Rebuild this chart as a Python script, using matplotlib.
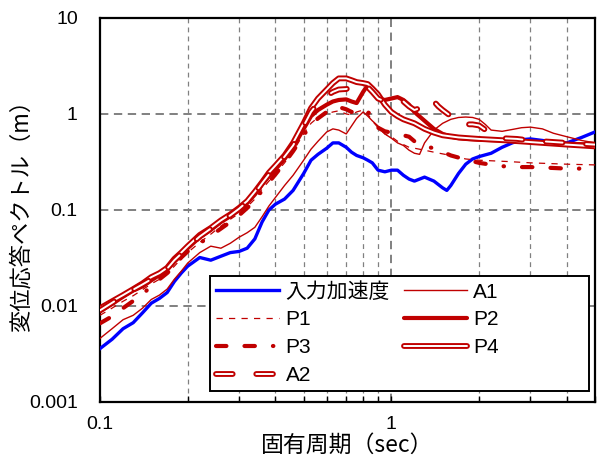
import numpy as np
import matplotlib
matplotlib.use("Agg")
import matplotlib.pyplot as plt
import matplotlib.patheffects as pe
from matplotlib.patches import Rectangle
from matplotlib.ticker import LogLocator, NullLocator, FixedFormatter, FixedLocator

plt.rcParams['font.family'] = ['Liberation Sans', 'Noto Sans CJK JP']
plt.rcParams['lines.scale_dashes'] = False

# input acceleration (blue)
T_in = [0.1, 0.11, 0.12, 0.13, 0.14, 0.15, 0.16, 0.17, 0.18, 0.19, 0.2, 0.22, 0.24, 0.26, 0.28, 0.3,
        0.32, 0.34, 0.36, 0.38, 0.4, 0.43, 0.46, 0.5, 0.53, 0.56, 0.6, 0.63, 0.66, 0.7, 0.73, 0.76,
        0.8, 0.83, 0.86, 0.9, 0.95, 1.0, 1.05, 1.1, 1.15, 1.2, 1.3, 1.4, 1.5, 1.55, 1.6, 1.7, 1.8,
        1.9, 2.0, 2.2, 2.4, 2.6, 2.8, 3.0, 3.3, 3.6, 4.0, 4.5, 5.0]
S_in = [0.0036, 0.0045, 0.0058, 0.0067, 0.0085, 0.0107, 0.012, 0.0138, 0.018, 0.022, 0.026, 0.032,
        0.030, 0.033, 0.036, 0.037, 0.040, 0.050, 0.075, 0.10, 0.115, 0.13, 0.16, 0.24, 0.33, 0.38,
        0.44, 0.50, 0.50, 0.45, 0.40, 0.37, 0.35, 0.33, 0.31, 0.26, 0.25, 0.26, 0.26, 0.23, 0.21,
        0.20, 0.22, 0.20, 0.17, 0.16, 0.18, 0.24, 0.30, 0.34, 0.36, 0.39, 0.45, 0.50, 0.54, 0.55,
        0.53, 0.51, 0.50, 0.57, 0.65]

# A1 (thin)
T_a1 = [0.1, 0.11, 0.12, 0.13, 0.14, 0.15, 0.16, 0.17, 0.18, 0.19, 0.2, 0.22, 0.24, 0.26, 0.28, 0.3,
        0.32, 0.34, 0.36, 0.38, 0.4, 0.43, 0.46, 0.5, 0.53, 0.56, 0.6, 0.63, 0.66, 0.7, 0.73, 0.76,
        0.8, 0.83, 0.86, 0.9, 0.95, 1.0, 1.05, 1.1, 1.15, 1.2, 1.25, 1.3, 1.4, 1.5, 1.6, 1.7, 1.8,
        1.9, 2.0, 2.1, 2.2, 2.4, 2.6, 2.8, 3.0, 3.3, 3.6, 4.0, 4.5, 5.0]
S_a1 = [0.0046, 0.0058, 0.0072, 0.008, 0.0095, 0.0117, 0.013, 0.015, 0.019, 0.023, 0.028, 0.036,
        0.042, 0.040, 0.045, 0.052, 0.058, 0.066, 0.085, 0.11, 0.135, 0.18, 0.23, 0.33, 0.43, 0.52,
        0.65, 0.70, 0.68, 0.62, 0.75, 0.90, 1.05, 0.95, 0.85, 0.75, 0.62, 0.56, 0.50, 0.47, 0.42,
        0.39, 0.38, 0.50, 0.68, 0.80, 0.88, 0.92, 0.93, 0.92, 0.88, 0.78, 0.68, 0.66, 0.69, 0.72,
        0.73, 0.70, 0.63, 0.58, 0.53, 0.50]

# P1 (thin dashed)
T_p1 = [0.1, 0.11, 0.12, 0.13, 0.14, 0.15, 0.16, 0.17, 0.18, 0.19, 0.2, 0.22, 0.24, 0.26, 0.28, 0.3,
        0.32, 0.34, 0.36, 0.38, 0.4, 0.43, 0.46, 0.5, 0.53, 0.56, 0.6, 0.63, 0.66, 0.7, 0.73, 0.76,
        0.8, 0.83, 0.86, 0.9, 0.95, 1.0, 1.05, 1.1, 1.15, 1.2, 1.3, 1.4, 1.6, 1.8, 2.0, 2.5, 3.0,
        4.0, 5.0]
S_p1 = [0.008, 0.0095, 0.0112, 0.0128, 0.0148, 0.017, 0.019, 0.022, 0.026, 0.031, 0.036, 0.046,
        0.056, 0.068, 0.080, 0.092, 0.108, 0.13, 0.165, 0.20, 0.24, 0.31, 0.41, 0.62, 0.80, 0.92,
        1.0, 1.05, 1.08, 1.0, 0.98, 1.05, 1.1, 1.0, 0.85, 0.72, 0.62, 0.58, 0.52, 0.48, 0.45, 0.44,
        0.42, 0.40, 0.37, 0.34, 0.33, 0.32, 0.31, 0.30, 0.295]

# P2 (thick)
T_p2 = [0.1, 0.11, 0.12, 0.13, 0.14, 0.15, 0.16, 0.17, 0.18, 0.19, 0.2, 0.22, 0.24, 0.26, 0.28, 0.3,
        0.32, 0.34, 0.36, 0.38, 0.4, 0.43, 0.46, 0.5, 0.53, 0.56, 0.6, 0.63, 0.66, 0.7, 0.73, 0.76,
        0.8, 0.83, 0.86, 0.9, 0.95, 1.0, 1.05, 1.1, 1.15, 1.2, 1.3, 1.4, 1.5, 1.6, 1.7, 1.8, 2.0,
        2.4, 3.0, 4.0, 5.0]
S_p2 = [0.0088, 0.0105, 0.0125, 0.0145, 0.016, 0.0185, 0.021, 0.024, 0.029, 0.034, 0.040, 0.052,
        0.062, 0.075, 0.086, 0.100, 0.118, 0.145, 0.185, 0.225, 0.265, 0.34, 0.45, 0.70, 0.95, 1.1,
        1.25, 1.35, 1.4, 1.42, 1.35, 1.30, 1.7, 2.0, 1.8, 1.45, 1.4, 1.45, 1.5, 1.4, 1.25, 1.05,
        0.85, 0.70, 0.62, 0.58, 0.56, 0.55, 0.54, 0.53, 0.51, 0.49, 0.48]

# P3 (thick dash-dot)
T_p3 = [0.1, 0.11, 0.12, 0.13, 0.14, 0.15, 0.16, 0.17, 0.18, 0.19, 0.2, 0.22, 0.24, 0.26, 0.28, 0.3,
        0.32, 0.34, 0.36, 0.38, 0.4, 0.43, 0.46, 0.5, 0.53, 0.56, 0.6, 0.63, 0.66, 0.7, 0.73, 0.76,
        0.8, 0.83, 0.86, 0.9, 0.95, 1.0, 1.05, 1.1, 1.15, 1.2, 1.3, 1.4, 1.6, 1.8, 2.0, 2.3, 2.6,
        3.0, 3.5, 4.0, 4.5, 5.0]
S_p3 = [0.0066, 0.0078, 0.0095, 0.0113, 0.013, 0.0165, 0.019, 0.022, 0.026, 0.032, 0.037, 0.045,
        0.054, 0.064, 0.075, 0.088, 0.105, 0.125, 0.16, 0.195, 0.235, 0.31, 0.41, 0.60, 0.78, 0.90,
        1.05, 1.15, 1.18, 1.12, 1.05, 1.08, 1.12, 1.05, 0.95, 0.72, 0.66, 0.64, 0.62, 0.60, 0.58,
        0.52, 0.46, 0.44, 0.37, 0.335, 0.31, 0.29, 0.28, 0.28, 0.275, 0.27, 0.27, 0.27]

# P4 (double line)
T_p4 = [0.1, 0.11, 0.12, 0.13, 0.14, 0.15, 0.16, 0.17, 0.18, 0.19, 0.2, 0.22, 0.24, 0.26, 0.28, 0.3,
        0.32, 0.34, 0.36, 0.38, 0.4, 0.43, 0.46, 0.5, 0.53, 0.56, 0.6, 0.63, 0.66, 0.7, 0.73, 0.76,
        0.8, 0.83, 0.86, 0.9, 0.95, 1.0, 1.05, 1.1, 1.2, 1.3, 1.4, 1.5, 1.7, 2.0, 2.5, 3.0, 4.0, 5.0]
S_p4 = [0.0095, 0.0112, 0.013, 0.015, 0.0172, 0.02, 0.022, 0.025, 0.031, 0.036, 0.042, 0.055,
        0.065, 0.078, 0.090, 0.105, 0.124, 0.155, 0.195, 0.245, 0.29, 0.37, 0.50, 0.80, 1.15, 1.45,
        1.8, 2.1, 2.35, 2.35, 2.25, 2.15, 2.1, 2.05, 1.85, 1.6, 1.25, 1.05, 0.95, 0.88, 0.80,
        0.70, 0.64, 0.60, 0.57, 0.55, 0.53, 0.51, 0.48, 0.46]

# A2 (double dashed)
T_a2 = [0.1, 0.11, 0.12, 0.13, 0.14, 0.15, 0.16, 0.17, 0.18, 0.19, 0.2, 0.22, 0.24, 0.26, 0.28, 0.3,
        0.32, 0.34, 0.36, 0.38, 0.4, 0.43, 0.46, 0.5, 0.53, 0.56, 0.6, 0.63, 0.66, 0.7, 0.73, 0.76,
        0.8, 0.83, 0.86, 0.9, 0.95, 1.0, 1.05, 1.1, 1.15, 1.2, 1.25, 1.3, 1.35, 1.4, 1.45, 1.5,
        1.6, 1.7, 1.8, 1.9, 2.0, 2.2, 2.4, 2.7, 3.0, 4.0, 5.0]
S_a2 = [0.009, 0.0108, 0.0128, 0.0148, 0.0168, 0.019, 0.0215, 0.0245, 0.030, 0.035, 0.041, 0.053,
        0.064, 0.076, 0.088, 0.103, 0.122, 0.15, 0.19, 0.235, 0.28, 0.36, 0.47, 0.75, 1.05, 1.3,
        1.55, 1.7, 1.8, 1.82, 1.9, 1.95, 2.0, 1.9, 1.7, 1.45, 1.35, 1.38, 1.42, 1.35, 1.2, 1.1,
        1.15, 1.3, 1.42, 1.35, 1.2, 1.1, 0.95, 0.82, 0.78, 0.78, 0.76, 0.62, 0.56, 0.55, 0.53,
        0.50, 0.48]

red = '#C00000'
blue = '#0000FF'

fig = plt.figure(figsize=(5.98, 4.59), dpi=100)
ax = fig.add_axes([100/598, 1-402/459, 495/598, 384/459])

l_in, = ax.plot(T_in, S_in, color=blue, lw=2.4, label='入力加速度', zorder=3)
l_a1, = ax.plot(T_a1, S_a1, color=red, lw=1.0, label='A1', zorder=3)
l_p1, = ax.plot(T_p1, S_p1, color=red, lw=0.9, dashes=(4.5, 4.5), label='P1', zorder=3)
l_p2, = ax.plot(T_p2, S_p2, color=red, lw=3.0, solid_capstyle='round', label='P2', zorder=3)
l_p3, = ax.plot(T_p3, S_p3, color=red, lw=3.0, dashes=(7.5, 13, 7.5, 13, 0.3, 13),
                dash_capstyle='round', label='P3', zorder=3)
l_p4, = ax.plot(T_p4, S_p4, color='white', lw=1.4, solid_capstyle='round', label='P4', zorder=3,
                path_effects=[pe.Stroke(linewidth=4.2, foreground=red), pe.Normal()])
l_a2, = ax.plot(T_a2, S_a2, color='white', lw=1.4, dashes=(12, 17), dash_capstyle='round',
                label='A2', zorder=3,
                path_effects=[pe.Stroke(linewidth=4.2, foreground=red), pe.Normal()])

ax.set_xscale('log')
ax.set_yscale('log')
ax.set_xlim(0.1, 5)
ax.set_ylim(0.001, 10)

ax.xaxis.set_major_locator(FixedLocator([0.1, 1]))
ax.xaxis.set_major_formatter(FixedFormatter(['0.1', '1']))
ax.xaxis.set_minor_locator(LogLocator(base=10, subs=np.arange(2, 10)))
ax.xaxis.set_minor_formatter(FixedFormatter([]))
ax.yaxis.set_major_locator(FixedLocator([0.001, 0.01, 0.1, 1, 10]))
ax.yaxis.set_major_formatter(FixedFormatter(['0.001', '0.01', '0.1', '1', '10']))
ax.yaxis.set_minor_locator(NullLocator())

ax.tick_params(axis='x', which='both', direction='in', length=4, width=1, pad=10, labelsize=14)
ax.tick_params(axis='y', which='major', length=0, pad=16, labelsize=14)

ax.grid(True, which='major', axis='both', color='#808080', lw=1.4, dashes=(6, 4))
ax.grid(True, which='minor', axis='x', color='#808080', lw=0.9, dashes=(3.5, 3))
ax.set_axisbelow(True)
for s in ax.spines.values():
    s.set_linewidth(1.6)

ax.set_xlabel('固有周期（sec）', fontsize=16.5, labelpad=1, family=['Noto Sans CJK JP'])
ax.set_ylabel('変位応答ペクトル（m）', fontsize=16, labelpad=-3, family=['Noto Sans CJK JP'])

# legend box (drawn separately so it can be wider than its entries, as in the original)
x0, x1 = (210-100)/495, (589-100)/495
y0, y1 = (402-391)/384, (402-276)/384
ax.add_patch(Rectangle((x0, y0), x1-x0, y1-y0, transform=ax.transAxes, facecolor='white',
                       edgecolor='black', lw=1.4, zorder=4))

handles = [l_in, l_p1, l_p3, l_a2, l_a1, l_p2, l_p4]
leg = ax.legend(handles=handles, labels=[h.get_label() for h in handles], ncol=2,
                loc='upper left', bbox_to_anchor=(x0, y1), borderaxespad=0,
                fontsize=15, handlelength=3.05, handletextpad=0.3, columnspacing=0.65,
                labelspacing=0.42, borderpad=0.28, frameon=False)
leg.set_zorder(5)

fig.savefig('out.png', dpi=100)
